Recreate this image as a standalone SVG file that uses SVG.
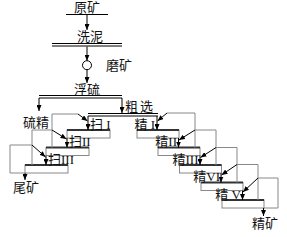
<svg xmlns="http://www.w3.org/2000/svg" width="287" height="237" viewBox="0 0 287 237">
<style>
text{font-family:"Liberation Serif","Noto Sans CJK SC",serif;font-size:13px;fill:#111}
.ln{stroke:#000;stroke-width:1;fill:none}
.rt{stroke:#888;stroke-width:1;fill:none}
.top{stroke:#333;stroke-width:2}
.box{stroke:#888;stroke-width:1;fill:#fff}
.fa{stroke:#000;stroke-width:1;fill:none;marker-end:url(#ah)}
</style>
<defs>
<marker id="ah" viewBox="0 0 6 5" refX="6" refY="2.5" markerWidth="6" markerHeight="5" orient="auto" markerUnits="userSpaceOnUse"><path d="M0,0 L6,2.5 L0,5 z" fill="#000"/></marker>
</defs>
<rect width="287" height="237" fill="#fff"/>
<g id="n-yuankuang"><text x="87" y="12" text-anchor="middle">原矿</text><line class="ln" x1="66" y1="14.5" x2="108" y2="14.5"/></g>
<g id="n-xini"><text x="90" y="41" text-anchor="middle">洗泥</text><line class="ln" x1="52" y1="43.5" x2="122" y2="43.5"/><line class="ln" x1="52" y1="46" x2="122" y2="46"/></g>
<g id="n-mokuang"><circle cx="87" cy="65.2" r="4.5" fill="#fff" stroke="#000"/><text x="106" y="70">磨矿</text></g>
<g id="n-fuliu"><text x="87" y="94" text-anchor="middle">浮硫</text><line class="ln" x1="39" y1="95.5" x2="122" y2="95.5"/><line class="ln" x1="39" y1="98" x2="122" y2="98"/></g>
<g id="n-liujing"><text x="23" y="127">硫精</text></g>
<g id="n-cuxuan"><text x="125" y="111" letter-spacing="2">粗选</text><line class="ln" x1="88" y1="113.5" x2="158" y2="113.5"/><line class="ln" x1="88" y1="116" x2="158" y2="116" stroke="#666"/></g>
<g id="n-sao1"><rect class="box" x="67" y="130" width="43" height="8"/><line class="top" x1="67" y1="130" x2="110" y2="130"/><text x="90" y="128.5">扫 I</text></g>
<g id="n-sao2"><rect class="box" x="46" y="147.5" width="43" height="8"/><line class="top" x1="46" y1="147.5" x2="89" y2="147.5"/><text x="69" y="146">扫II</text></g>
<g id="n-sao3"><rect class="box" x="25" y="165" width="43" height="8"/><line class="top" x1="25" y1="165" x2="68" y2="165"/><text x="48" y="163.5">扫III</text></g>
<g id="n-jing1"><rect class="box" x="137" y="130" width="42" height="8"/><line class="top" x1="137" y1="130" x2="179" y2="130"/><text x="155" y="128.5" text-anchor="end">精 I</text></g>
<g id="n-jing2"><rect class="box" x="158" y="147.5" width="42" height="8"/><line class="top" x1="158" y1="147.5" x2="200" y2="147.5"/><text x="177" y="146" text-anchor="end">精II</text></g>
<g id="n-jing3"><rect class="box" x="179.5" y="165" width="42" height="8"/><line class="top" x1="179.5" y1="165" x2="221.5" y2="165"/><text x="198.5" y="163.5" text-anchor="end">精III</text></g>
<g id="n-jing4"><rect class="box" x="201" y="182.5" width="42" height="8"/><line class="top" x1="201" y1="182.5" x2="243" y2="182.5"/><text x="220" y="181" text-anchor="end">精VI</text></g>
<g id="n-jing5"><rect class="box" x="222" y="200" width="42" height="8"/><line class="top" x1="222" y1="200" x2="264" y2="200"/><text x="241" y="198.5" text-anchor="end">精 V</text></g>
<g id="n-weikuang"><text x="13" y="192">尾矿</text></g>
<g id="n-jingkuang"><text x="252" y="228">精矿</text></g>
<g id="connectors">
<line class="fa" x1="87" y1="15" x2="87" y2="30"/>
<line class="fa" x1="87" y1="46.5" x2="87" y2="60.7"/>
<line class="fa" x1="87" y1="69.7" x2="87" y2="83"/>
<line class="fa" x1="39" y1="98" x2="39" y2="111"/>
<line class="fa" x1="122" y1="98" x2="122" y2="113"/>
<line class="fa" x1="88" y1="116" x2="88" y2="130"/>
<line class="fa" x1="157" y1="116" x2="157" y2="130"/>
<line class="fa" x1="178.5" y1="138" x2="178.5" y2="147.5"/>
<line class="fa" x1="200" y1="155.5" x2="200" y2="165"/>
<line class="fa" x1="221" y1="173" x2="221" y2="182.5"/>
<line class="fa" x1="242.5" y1="190.5" x2="242.5" y2="200"/>
<line class="fa" x1="263.5" y1="208" x2="263.5" y2="216"/>
<line class="fa" x1="67" y1="138" x2="67" y2="147.5"/>
<line class="fa" x1="46" y1="155.5" x2="46" y2="165"/>
<line class="fa" x1="25" y1="173" x2="25" y2="180"/>
<polyline class="rt" points="195,147.5 195,113 167,113"/>
<polyline class="rt" points="216,165 216,130 195,130"/>
<polyline class="rt" points="237,182.5 237,147.5 216,147.5"/>
<polyline class="rt" points="258,200 258,164.5 237,164.5"/>
<polyline class="rt" points="264,208 278,208 278,178 258,178"/>
<line class="fa" x1="167" y1="113" x2="157.5" y2="121"/>
<line class="fa" x1="195" y1="130" x2="179" y2="140"/>
<line class="fa" x1="216" y1="147.5" x2="200.5" y2="157.5"/>
<line class="fa" x1="237" y1="164.5" x2="221.5" y2="175"/>
<line class="fa" x1="258" y1="178" x2="243" y2="192"/>
<polyline class="rt" points="52,147.5 52,114 78,114"/>
<polyline class="rt" points="32,165 32,130 52,130"/>
<polyline class="rt" points="25,173 10,173 10,145 32,145"/>
<line class="fa" x1="78" y1="114" x2="87.5" y2="121"/>
<line class="fa" x1="52" y1="130" x2="66.5" y2="139"/>
<line class="fa" x1="32" y1="145" x2="45.5" y2="157"/>
</g>
</svg>
